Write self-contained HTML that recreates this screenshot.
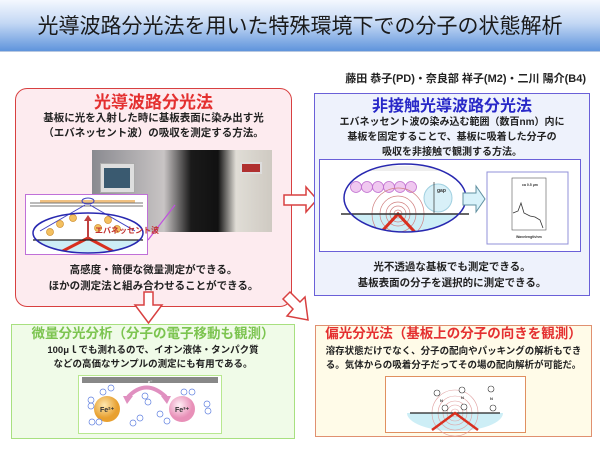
<!DOCTYPE html>
<html><head><meta charset="utf-8"><style>
*{margin:0;padding:0;box-sizing:border-box}
body{width:600px;height:450px;background:#fff;position:relative;overflow:hidden;font-family:"Liberation Sans","Noto Sans CJK JP",sans-serif;font-weight:bold;color:#222}
.a{position:absolute}
.t{position:absolute;white-space:nowrap;text-align:center;line-height:1}
</style></head><body>
<div class="a" style="left:0;top:0;width:600px;height:52px;background:linear-gradient(#f4f8fe,#c4d8f4 45%,#5f94dc);border-bottom:1px solid #b8c8e0"></div>
<div class="t" style="left:0;top:16px;width:600px;font-size:21px;font-weight:normal;color:#1a1a1a">光導波路分光法を用いた特殊環境下での分子の状態解析</div>
<div class="t" style="right:14px;top:74px;font-size:11px;color:#222">藤田 恭子(PD)・奈良部 祥子(M2)・二川 陽介(B4)</div>

<!-- red box -->
<div class="a" style="left:15px;top:88px;width:277px;height:219px;border:1.5px solid #d84040;border-radius:12px;background:#fdebef"></div>
<div class="t" style="left:15px;top:94px;width:277px;font-size:17px;color:#e43030">光導波路分光法</div>
<div class="t" style="left:15px;top:111px;width:277px;font-size:10.5px;line-height:15px">基板に光を入射した時に基板表面に染み出す光<br>（エバネッセント波）の吸収を測定する方法。</div>
<div class="a" style="left:92px;top:150px;width:180px;height:82px;background:linear-gradient(90deg,#8a8a90,#c8c4c4 40%,#1a1a1a 55%,#111 70%,#e0ddd6 80%,#cfcac2)"></div>
<div class="a" style="left:100px;top:163px;width:35px;height:30px;background:#dedede;border:1px solid #aaa"></div>
<div class="a" style="left:104px;top:168px;width:26px;height:20px;background:#3a5a70"></div>
<div class="a" style="left:240px;top:162px;width:22px;height:12px;background:#b03030;border:2px solid #ddd"></div>
<div class="a" style="left:25px;top:194px;width:123px;height:61px;background:#fff;border:1.5px solid #c070d8"></div>
<svg class="a" style="left:0;top:0" width="600" height="450">
 <line x1="148" y1="240" x2="175" y2="205" stroke="#c050e0" stroke-width="1.2"/>
 <rect x="40" y="200" width="95" height="3" fill="#f0c080"/>
 <line x1="30" y1="203" x2="143" y2="203" stroke="#777"/>
 <line x1="30" y1="206" x2="143" y2="206" stroke="#777"/>
 <line x1="85" y1="205" x2="40" y2="231" stroke="#4040c0"/>
 <line x1="90" y1="205" x2="135" y2="231" stroke="#4040c0"/>
 <ellipse cx="88" cy="201" rx="6" ry="3" fill="none" stroke="#4040c0"/>
 <clipPath id="c1"><ellipse cx="88" cy="233" rx="55" ry="20"/></clipPath>
 <g clip-path="url(#c1)"><rect x="30" y="240" width="120" height="20" fill="#cdeef6"/>
 <g fill="#f4c060" stroke="#d09030" stroke-width="0.7"><circle cx="60" cy="224" r="3.5"/><circle cx="73" cy="218" r="3.5"/><circle cx="108" cy="220" r="3.5"/><circle cx="98" cy="228" r="3.5"/><circle cx="117" cy="229" r="3.5"/><circle cx="50" cy="232" r="3.5"/></g>
 <polyline points="55,255 88,238 120,255" fill="none" stroke="#d83020" stroke-width="3"/></g>
 <line x1="33" y1="240" x2="143" y2="240" stroke="#222" stroke-width="1.2"/>
 <ellipse cx="88" cy="233" rx="55" ry="20" fill="none" stroke="#2828b0" stroke-width="1.5"/>
 <line x1="88" y1="238" x2="88" y2="219" stroke="#c04040" stroke-width="2"/><polygon points="84,221 92,221 88,215" fill="#c04040"/>
 <text x="95" y="233" font-size="8" fill="#c03030" font-family="Liberation Sans,Noto Sans CJK JP,sans-serif">エバネッセント波</text>

 <polygon points="284,195 306,195 306,187 317,199.5 306,212 306,205 284,205" fill="#fff" stroke="#d84040" stroke-width="1.5"/>
 <polygon points="144,292 153,292 153,305 162,305 148.5,323 135,305 144,305" fill="#fff" stroke="#d84040" stroke-width="1.5"/>
 <polygon points="283,299 290,292 300,302 305,297 308,320 287,316 293,309" fill="#fff" stroke="#d84040" stroke-width="1.5"/>
</svg>
<div class="t" style="left:15px;top:262px;width:277px;font-size:10.5px;line-height:16px">高感度・簡便な微量測定ができる。<br>ほかの測定法と組み合わせることができる。</div>

<!-- blue box -->
<div class="a" style="left:314px;top:93px;width:276px;height:203px;border:1.5px solid #6a60d8;background:#eef2fc"></div>
<div class="t" style="left:314px;top:99px;width:276px;font-size:16px;color:#2828c8">非接触光導波路分光法</div>
<div class="t" style="left:314px;top:115px;width:276px;font-size:10px;line-height:15px">エバネッセント波の染み込む範囲（数百nm）内に<br>基板を固定することで、基板に吸着した分子の<br>吸収を非接触で観測する方法。</div>
<div class="a" style="left:319px;top:159px;width:262px;height:93px;background:#fff;border:1.5px solid #6a60d8"></div>
<svg class="a" style="left:0;top:0" width="600" height="450">
 <clipPath id="c2"><ellipse cx="405" cy="198" rx="61" ry="34"/></clipPath>
 <g clip-path="url(#c2)">
  <rect x="340" y="214" width="130" height="30" fill="#cdeef6"/>
  <rect x="340" y="166" width="120" height="5" fill="#eee"/>
  <g fill="#f0c8f0" stroke="#c070d0" stroke-width="0.8"><circle cx="356" cy="187" r="5.5"/><circle cx="367" cy="187" r="5.5"/><circle cx="378" cy="187" r="5.5"/><circle cx="389" cy="187" r="5.5"/><circle cx="400" cy="187" r="5.5"/><circle cx="411" cy="187" r="5.5"/></g>
  <circle cx="438" cy="198" r="14" fill="#d8f0f8" stroke="#a0d0e0"/>
  <g fill="none" stroke="#d08080" stroke-width="0.7"><circle cx="398" cy="214" r="4"/><circle cx="398" cy="214" r="8"/><circle cx="398" cy="214" r="12"/><circle cx="398" cy="214" r="18"/><circle cx="398" cy="214" r="26"/></g>
  <polyline points="370,244 398,214 426,244" fill="none" stroke="#d83020" stroke-width="3"/>
 </g>
 <line x1="341" y1="214" x2="469" y2="214" stroke="#333" stroke-width="1.5"/>
 <line x1="434" y1="182" x2="434" y2="213" stroke="#333" stroke-width="0.7"/>
 <text x="437" y="192" font-size="5" fill="#333">gap</text>
 <ellipse cx="405" cy="198" rx="61" ry="34" fill="none" stroke="#2828b0" stroke-width="1.5"/>
 <polygon points="463,193 476,193 476,186 485,199 476,212 476,205 463,205" fill="#d8f2fa" stroke="#6090a0"/>
 <rect x="487" y="172" width="81" height="72" fill="#fff" stroke="#9090d8"/>
 <rect x="512" y="178" width="34" height="52" fill="none" stroke="#555" stroke-width="0.6"/>
 <polyline points="513,213 518,211 521,203 524,213 530,216 535,217 540,220 543,228" fill="none" stroke="#333" stroke-width="0.8"/>
 <text x="522" y="186" font-size="3.5" fill="#333">ca 0.5 µm</text>
 <text x="516" y="238" font-size="3.5" fill="#333">Wavelength/nm</text>
</svg>
<div class="t" style="left:314px;top:259px;width:276px;font-size:10.5px;line-height:16px">光不透過な基板でも測定できる。<br>基板表面の分子を選択的に測定できる。</div>

<!-- green box -->
<div class="a" style="left:11px;top:324px;width:284px;height:115px;border:1.5px solid #a8e080;background:#f0fbe8"></div>
<div class="t" style="left:11px;top:327px;width:284px;font-size:13.5px;color:#7cc450">微量分光分析（分子の電子移動も観測）</div>
<div class="t" style="left:11px;top:344px;width:284px;font-size:9.5px;line-height:14px">100μｌでも測れるので、イオン液体・タンパク質<br>などの高価なサンプルの測定にも有用である。</div>
<div class="a" style="left:78px;top:375px;width:144px;height:59px;background:#fff;border:1.5px solid #b8e890"></div>
<svg class="a" style="left:0;top:0" width="600" height="450">
 <rect x="82" y="377" width="136" height="6" fill="#888"/>
 <text x="148" y="383" font-size="4" fill="#fff">e⁻</text>
 <defs><radialGradient id="go" cx="40%" cy="35%"><stop offset="0" stop-color="#fde8b0"/><stop offset="1" stop-color="#e8a030"/></radialGradient>
 <radialGradient id="gp" cx="40%" cy="35%"><stop offset="0" stop-color="#fff0f6"/><stop offset="1" stop-color="#e890b8"/></radialGradient></defs>
 <circle cx="107" cy="409" r="13" fill="url(#go)"/>
 <circle cx="182" cy="409" r="13" fill="url(#gp)"/>
 <text x="100" y="412" font-size="7" fill="#333">Fe²⁺</text>
 <text x="175" y="412" font-size="7" fill="#333">Fe³⁺</text>
 <path d="M128,397 Q146,378 166,397" fill="none" stroke="#e090c0" stroke-width="4"/>
 <polygon points="123,396 133,396 127,404" fill="#e090c0"/><polygon points="161,396 171,396 167,404" fill="#e090c0"/>
 <g fill="#fff" stroke="#6080e0" stroke-width="0.7">
  <circle cx="103" cy="392" r="3"/><circle cx="111" cy="388" r="3"/><circle cx="91" cy="400" r="3"/><circle cx="91" cy="406" r="3"/><circle cx="92" cy="422" r="3"/><circle cx="99" cy="422" r="3"/>
  <circle cx="145" cy="396" r="3"/><circle cx="148" cy="402" r="3"/><circle cx="133" cy="423" r="3"/><circle cx="140" cy="418" r="3"/>
  <circle cx="160" cy="414" r="3"/><circle cx="167" cy="421" r="3"/><circle cx="184" cy="392" r="3"/><circle cx="192" cy="392" r="3"/><circle cx="207" cy="404" r="3"/><circle cx="208" cy="411" r="3"/>
 </g>
</svg>

<!-- orange box -->
<div class="a" style="left:315px;top:325px;width:277px;height:112px;border:1.5px solid #e09070;background:#fffbe8"></div>
<div class="t" style="left:315px;top:327px;width:277px;font-size:13.5px;color:#e43030">偏光分光法（基板上の分子の向きを観測）</div>
<div class="t" style="left:315px;top:345px;width:277px;font-size:9.5px;line-height:14px">溶存状態だけでなく、分子の配向やパッキングの解析もでき<br>る。気体からの吸着分子だってその場の配向解析が可能だ。</div>
<div class="a" style="left:385px;top:376px;width:141px;height:57px;background:#fff;border:1.5px solid #e09060"></div>
<svg class="a" style="left:0;top:0" width="600" height="450">
 <clipPath id="c3"><ellipse cx="455" cy="413" rx="48" ry="18"/></clipPath>
 <rect x="405" y="413" width="100" height="20" fill="#cdeef6" clip-path="url(#c3)"/>
 <g fill="none" stroke="#e0a0a0" stroke-width="0.6"><circle cx="455" cy="413" r="4"/><circle cx="455" cy="413" r="8"/><circle cx="455" cy="413" r="12"/><circle cx="455" cy="413" r="17"/><circle cx="455" cy="413" r="23"/></g>
 <line x1="410" y1="413" x2="500" y2="413" stroke="#222" stroke-width="1.2"/>
 <polyline points="432,430 455,413 478,430" fill="none" stroke="#d83020" stroke-width="2.5"/>
 <g fill="#fff" stroke="#333" stroke-width="0.6"><circle cx="437" cy="393" r="3"/><circle cx="445" cy="408" r="3"/><circle cx="462" cy="390" r="3"/><circle cx="464" cy="407" r="3"/><circle cx="491" cy="389" r="3"/><circle cx="493" cy="408" r="3"/></g>
 <g font-size="4" fill="#333"><text x="440" y="402">N</text><text x="461" y="399">N</text><text x="490" y="400">N</text></g>
</svg>
</body></html>
